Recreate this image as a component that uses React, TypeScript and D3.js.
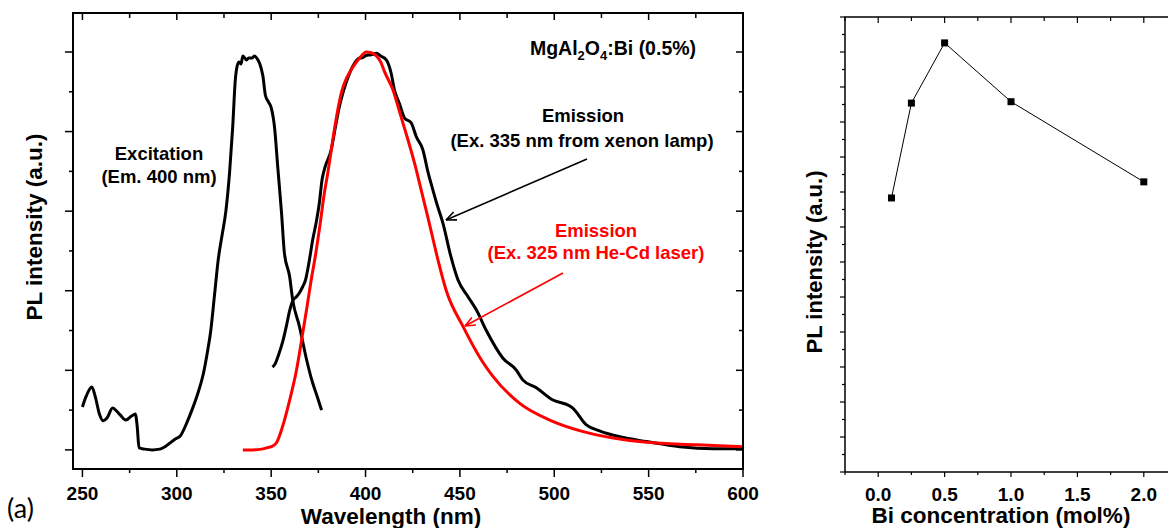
import { useEffect, useRef } from "react";
import * as d3 from "d3";

// excitation spectrum (Em. 400 nm)
const excWl = [250, 252, 255, 257, 259, 261, 263, 266, 268, 270, 273, 276, 278, 279, 280, 283, 287, 291, 293, 296, 299, 302, 305, 308, 311, 314, 316, 318, 320, 322, 324, 326, 328, 329.6, 331, 332, 333, 334, 335, 337, 338, 340, 341, 343, 344, 345.6, 347, 348.5, 350, 351.8, 353.5, 355.5, 357, 359.8, 361.4, 365, 368.8, 372, 374, 376.7];
const excI = [0.108, 0.135, 0.158, 0.13, 0.09, 0.073, 0.08, 0.105, 0.098, 0.088, 0.075, 0.085, 0.09, 0.06, 0.005, 0.002, 0.0, 0.002, 0.006, 0.016, 0.027, 0.036, 0.065, 0.1, 0.14, 0.19, 0.24, 0.3, 0.39, 0.48, 0.54, 0.6, 0.7, 0.81, 0.93, 0.965, 0.975, 0.97, 0.99, 0.98, 0.985, 0.985, 0.99, 0.98, 0.97, 0.94, 0.89, 0.875, 0.86, 0.81, 0.71, 0.595, 0.495, 0.435, 0.377, 0.31, 0.226, 0.168, 0.14, 0.1];

// emission, Ex. 335 nm xenon lamp
const xeWl = [350.7, 352, 354, 356, 358, 359.8, 361.5, 363.4, 365, 366.7, 368.2, 370, 372, 374, 375.5, 377, 378.5, 381.8, 384, 386, 388.5, 391, 393.3, 396.9, 398, 400.6, 403, 405.8, 408, 411, 413.6, 415.3, 418, 420.7, 424.2, 426.9, 430.4, 433, 435.7, 438, 441, 445, 449, 454.3, 458.7, 464, 472.7, 480, 483.3, 490.5, 499, 508, 509.8, 517, 524, 534.7, 548.9, 566.5, 584, 600];
const xeI = [0.208, 0.215, 0.24, 0.27, 0.31, 0.35, 0.375, 0.385, 0.395, 0.41, 0.427, 0.47, 0.528, 0.575, 0.62, 0.68, 0.71, 0.754, 0.81, 0.86, 0.905, 0.94, 0.965, 0.985, 0.985, 0.992, 0.993, 0.997, 0.99, 0.98, 0.946, 0.905, 0.87, 0.834, 0.822, 0.787, 0.754, 0.7, 0.653, 0.615, 0.57, 0.49, 0.427, 0.385, 0.352, 0.3, 0.231, 0.2, 0.176, 0.156, 0.126, 0.111, 0.105, 0.063, 0.048, 0.033, 0.021, 0.008, 0.003, 0.003];

// emission, Ex. 325 nm He-Cd laser
const hcWl = [335, 340, 345, 347.5, 350, 352.8, 356, 359.8, 363.4, 366.7, 369, 371.2, 373.5, 376, 378, 380, 383, 385.5, 387.6, 390, 393, 396.9, 400.4, 403, 405.8, 408, 410.1, 414.5, 418, 422, 426, 429.5, 433, 435.5, 438.4, 442.8, 451.7, 461.4, 467.6, 481.7, 497.6, 515.3, 531.2, 548.9, 575.4, 600];
const hcI = [0.0, 0.0, 0.002, 0.005, 0.008, 0.018, 0.058, 0.125, 0.2, 0.293, 0.36, 0.427, 0.49, 0.57, 0.64, 0.696, 0.79, 0.86, 0.905, 0.935, 0.96, 0.985, 1.0, 0.998, 0.99, 0.975, 0.95, 0.905, 0.85, 0.787, 0.72, 0.653, 0.585, 0.535, 0.477, 0.4, 0.31, 0.226, 0.184, 0.117, 0.075, 0.046, 0.03, 0.019, 0.013, 0.008];

// panel b: PL intensity vs Bi concentration
const biConc = [0.1, 0.25, 0.5, 1.0, 2.0];
const biPL = [7.83, 10.54, 12.26, 10.58, 8.29];

const wlTicks = [250, 300, 350, 400, 450, 500, 550, 600];
const concTicks = [0.0, 0.5, 1.0, 1.5, 2.0];

const FONT = "'Liberation Sans', Arial, sans-serif";

const App = () => {
    const svgRef = useRef<SVGSVGElement | null>(null);

    useEffect(() => {
        const svg = d3.select(svgRef.current);
        svg.selectAll("*").remove();

        // ---------- panel (a) ----------
        const x = d3.scaleLinear().domain([245, 600]).range([73, 743]);
        const y = d3.scaleLinear().domain([-0.048, 1.098]).range([469, 13]);
        const [x0, x1] = x.range();
        const [yb, yt] = y.range();

        const ga = svg.append("g");

        const line = d3.line<[number, number]>()
            .x((d) => x(d[0]))
            .y((d) => y(d[1]))
            .curve(d3.curveMonotoneX);

        const series = [
            { wl: excWl, v: excI, color: "#000" },
            { wl: xeWl, v: xeI, color: "#000" },
            { wl: hcWl, v: hcI, color: "#ff0000" },
        ];
        series.forEach((s) => {
            ga.append("path")
                .datum(s.wl.map((w, i) => [w, s.v[i]] as [number, number]))
                .attr("d", line)
                .attr("fill", "none")
                .attr("stroke", s.color)
                .attr("stroke-width", 3)
                .attr("stroke-linejoin", "round");
        });

        // frame
        ga.append("rect")
            .attr("x", x0).attr("y", yt)
            .attr("width", x1 - x0).attr("height", yb - yt)
            .attr("fill", "none").attr("stroke", "#000").attr("stroke-width", 2);

        // x ticks: bottom outward, top inward
        d3.range(250, 601, 25).forEach((v) => {
            const major = v % 50 === 0;
            ga.append("line").attr("x1", x(v)).attr("x2", x(v)).attr("y1", yb).attr("y2", yb + (major ? 8 : 4))
                .attr("stroke", "#000").attr("stroke-width", 1.5);
            ga.append("line").attr("x1", x(v)).attr("x2", x(v)).attr("y1", yt).attr("y2", yt + (major ? 7 : 5))
                .attr("stroke", "#000").attr("stroke-width", 1.5);
        });
        // y ticks: left outward, right inward
        d3.range(0, 11).map((i) => i / 10).forEach((v, i) => {
            const major = i % 2 === 0;
            ga.append("line").attr("x1", x0).attr("x2", x0 - (major ? 8 : 4)).attr("y1", y(v)).attr("y2", y(v))
                .attr("stroke", "#000").attr("stroke-width", 1.5);
            ga.append("line").attr("x1", x1).attr("x2", x1 - (major ? 7 : 4)).attr("y1", y(v)).attr("y2", y(v))
                .attr("stroke", "#000").attr("stroke-width", 1.5);
        });

        ga.selectAll(".wl")
            .data(wlTicks)
            .enter()
            .append("text")
            .attr("x", (d) => x(d))
            .attr("y", 500)
            .attr("text-anchor", "middle")
            .style("font-family", FONT)
            .style("font-weight", "bold")
            .style("font-size", "19px")
            .text((d) => d);

        ga.append("text")
            .attr("x", 391).attr("y", 524)
            .attr("text-anchor", "middle")
            .style("font-family", FONT).style("font-weight", "bold").style("font-size", "22.5px")
            .text("Wavelength (nm)");

        ga.append("text")
            .attr("transform", "translate(42,227) rotate(-90)")
            .attr("text-anchor", "middle")
            .style("font-family", FONT).style("font-weight", "bold").style("font-size", "22.5px")
            .text("PL intensity (a.u.)");

        svg.append("text")
            .attr("x", 7).attr("y", 518)
            .style("font-family", "Lato, 'Open Sans', sans-serif")
            .style("font-size", "27px")
            .text("(a)");

        // annotations
        const ann = (tx: number, ty: number, s: string, color = "#000") =>
            ga.append("text")
                .attr("x", tx).attr("y", ty)
                .attr("text-anchor", "middle")
                .attr("fill", color)
                .style("font-family", FONT).style("font-weight", "bold").style("font-size", "18.5px")
                .text(s);

        const title = ga.append("text")
            .attr("x", 613).attr("y", 55)
            .attr("text-anchor", "middle")
            .style("font-family", FONT).style("font-weight", "bold").style("font-size", "19.5px");
        title.append("tspan").text("MgAl");
        title.append("tspan").attr("dy", 5).style("font-size", "13px").text("2");
        title.append("tspan").attr("dy", -5).text("O");
        title.append("tspan").attr("dy", 5).style("font-size", "13px").text("4");
        title.append("tspan").attr("dy", -5).text(":Bi (0.5%)");

        ann(159, 160, "Excitation");
        ann(159, 183, "(Em. 400 nm)");
        ann(583, 122, "Emission");
        ann(582, 147, "(Ex. 335 nm from xenon lamp)");
        ann(596, 237, "Emission", "#ff0000");
        ann(596, 259, "(Ex. 325 nm He-Cd laser)", "#ff0000");

        const arrow = (ax: number, ay: number, bx: number, by: number, color: string) => {
            ga.append("line").attr("x1", ax).attr("y1", ay).attr("x2", bx).attr("y2", by)
                .attr("stroke", color).attr("stroke-width", 1.6);
            const ang = Math.atan2(by - ay, bx - ax);
            [-0.4, 0.4].forEach((da) => {
                ga.append("line")
                    .attr("x1", bx).attr("y1", by)
                    .attr("x2", bx - 11 * Math.cos(ang + da)).attr("y2", by - 11 * Math.sin(ang + da))
                    .attr("stroke", color).attr("stroke-width", 1.6);
            });
        };
        arrow(587, 159, 446, 220, "#000");
        arrow(563, 273, 465, 326, "#ff0000");

        // ---------- panel (b) ----------
        const xb = d3.scaleLinear().domain([-0.25, 2.25]).range([845, 1177]);
        const yb2 = d3.scaleLinear().domain([0, 13]).range([472, 17]);
        const [bx0, bx1] = xb.range();
        const [bb, bt] = yb2.range();
        const gb = svg.append("g");

        gb.append("path")
            .datum(biConc.map((c, i) => [c, biPL[i]] as [number, number]))
            .attr("d", d3.line<[number, number]>().x((d) => xb(d[0])).y((d) => yb2(d[1])))
            .attr("fill", "none").attr("stroke", "#000").attr("stroke-width", 1);

        gb.selectAll(".pt")
            .data(biConc)
            .enter()
            .append("rect")
            .attr("x", (d) => xb(d) - 3.5)
            .attr("y", (_, i) => yb2(biPL[i]) - 3.5)
            .attr("width", 7).attr("height", 7)
            .attr("fill", "#000");

        gb.append("rect")
            .attr("x", bx0).attr("y", bt)
            .attr("width", bx1 - bx0).attr("height", bb - bt)
            .attr("fill", "none").attr("stroke", "#000").attr("stroke-width", 1.5);

        d3.range(-0.25, 2.26, 0.25).forEach((v, i) => {
            const major = i % 2 === 1;
            gb.append("line").attr("x1", xb(v)).attr("x2", xb(v)).attr("y1", bb).attr("y2", bb + (major ? 5 : 3))
                .attr("stroke", "#000").attr("stroke-width", 1.2);
            gb.append("line").attr("x1", xb(v)).attr("x2", xb(v)).attr("y1", bt).attr("y2", bt + (major ? 6 : 4))
                .attr("stroke", "#000").attr("stroke-width", 1.2);
        });
        d3.range(0, 13.01, 0.5).forEach((v, i) => {
            const major = i % 2 === 0;
            gb.append("line").attr("x1", bx0).attr("x2", bx0 - (major ? 5 : 3)).attr("y1", yb2(v)).attr("y2", yb2(v))
                .attr("stroke", "#000").attr("stroke-width", 1.2);
        });

        gb.selectAll(".ct")
            .data(concTicks)
            .enter()
            .append("text")
            .attr("x", (d) => xb(d))
            .attr("y", 501)
            .attr("text-anchor", "middle")
            .style("font-family", FONT).style("font-weight", "bold").style("font-size", "19px")
            .text((d) => d.toFixed(1));

        gb.append("text")
            .attr("x", 1001).attr("y", 523)
            .attr("text-anchor", "middle")
            .style("font-family", FONT).style("font-weight", "bold").style("font-size", "22.5px")
            .text("Bi concentration (mol%)");

        gb.append("text")
            .attr("transform", "translate(822,262) rotate(-90)")
            .attr("text-anchor", "middle")
            .style("font-family", FONT).style("font-weight", "bold").style("font-size", "22px")
            .text("PL intensity (a.u.)");
    }, []);

    return (
        <svg
            ref={svgRef}
            width={1168}
            height={528}
            style={{ position: "absolute", left: 0, top: 0, background: "#fff" }}
        />
    );
};

export default App;
